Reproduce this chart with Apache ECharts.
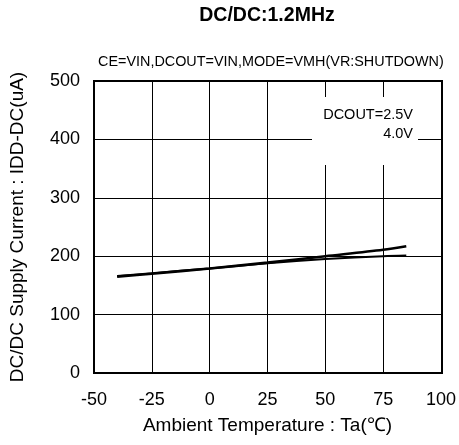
<!DOCTYPE html>
<html>
<head>
<meta charset="utf-8">
<script src="https://cdn.jsdelivr.net/npm/echarts@6/dist/echarts.min.js"></script>
<style>html,body{margin:0;padding:0;background:#fff}#c{width:459px;height:445px}</style>
</head>
<body>
<div id="c"></div>
<script>
const title = 'DC/DC:1.2MHz';
const condition = 'CE=VIN,DCOUT=VIN,MODE=VMH(VR:SHUTDOWN)';
const xName = 'Ambient Temperature : Ta(\u2103)';
const yName = 'DC/DC Supply Current : IDD-DC(uA)';
const temps = [-40, -25, 0, 25, 50, 75, 85];
const idd25 = [165, 170, 179, 189, 200, 211, 217];
const idd40 = [166, 171, 179, 188, 195, 200, 201];
const legendLines = ['DCOUT=2.5V', '4.0V'];
const font = '"Liberation Sans", Arial, sans-serif';

const chart = echarts.init(document.getElementById('c'), null, {renderer: 'canvas'});
chart.setOption({
  animation: false,
  backgroundColor: '#fff',
  grid: {left: 94, right: 17, top: 81, bottom: 72},
  xAxis: {
    type: 'value', min: -50, max: 100, interval: 25,
    name: xName, nameLocation: 'middle', nameGap: 43,
    nameTextStyle: {fontFamily: font, fontSize: 19, color: '#000'},
    axisLine: {show: true, onZero: false, lineStyle: {color: '#000', width: 2}},
    axisTick: {show: false},
    axisLabel: {fontFamily: font, fontSize: 18, color: '#000', margin: 18},
    splitLine: {show: true, lineStyle: {color: '#000', width: 1}}
  },
  yAxis: {
    type: 'value', min: 0, max: 500, interval: 100,
    name: yName, nameLocation: 'middle', nameGap: 67,
    nameTextStyle: {fontFamily: font, fontSize: 19, color: '#000'},
    axisLine: {show: true, onZero: false, lineStyle: {color: '#000', width: 2}},
    axisTick: {show: false},
    axisLabel: {fontFamily: font, fontSize: 18, color: '#000', margin: 14},
    splitLine: {show: true, lineStyle: {color: '#000', width: 1}}
  },
  graphic: [
    {type: 'text', style: {x: 267, y: 6, text: title, font: 'bold 19.5px ' + font, fill: '#000', textAlign: 'center'}},
    {type: 'text', style: {x: 98, y: 55, text: condition, font: '14.4px ' + font, fill: '#000'}},
    {type: 'rect', z: 1, shape: {x: 312, y: 97, width: 106, height: 68}, style: {fill: '#fff'}},
    {type: 'text', z: 2, style: {x: 413, y: 107, text: legendLines[0], font: '14.5px ' + font, fill: '#000', textAlign: 'right'}},
    {type: 'text', z: 2, style: {x: 413, y: 126, text: legendLines[1], font: '14.5px ' + font, fill: '#000', textAlign: 'right'}},
    {type: 'rect', z: 3, shape: {x: 94, y: 81, width: 348, height: 292}, style: {fill: 'none', stroke: '#000', lineWidth: 2}}
  ],
  series: [
    {name: 'DCOUT=2.5V', type: 'line', z: 5, showSymbol: false, smooth: 0.3, data: temps.map((t, i) => [t, idd25[i]]), lineStyle: {color: '#000', width: 2.6}},
    {name: 'DCOUT=4.0V', type: 'line', z: 5, showSymbol: false, smooth: 0.3, data: temps.map((t, i) => [t, idd40[i]]), lineStyle: {color: '#000', width: 2}}
  ]
});
</script>
</body>
</html>
